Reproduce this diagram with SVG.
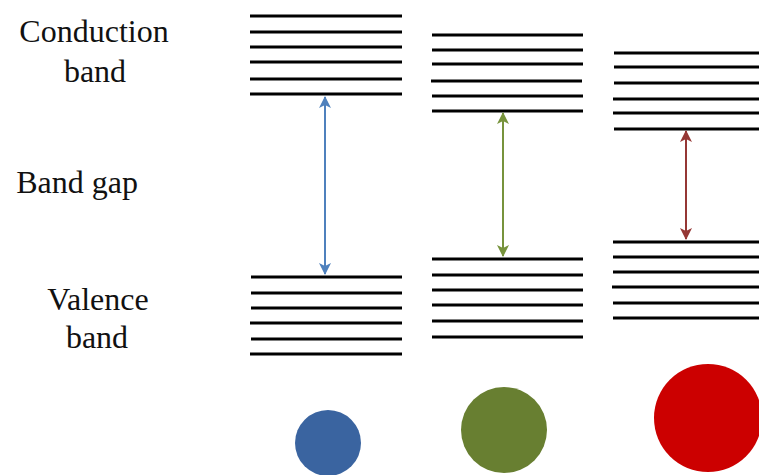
<svg xmlns="http://www.w3.org/2000/svg" width="759" height="475" viewBox="0 0 759 475">
  <style>
    .lbl { font-family: 'Liberation Serif', 'Times New Roman', Times, 'Noto Serif', 'DejaVu Serif', FreeSerif, Tinos, serif; font-size: 32px; fill: #111; text-anchor: middle; }
    .lvl line { stroke: #000; stroke-width: 3; }
    .gap { stroke-width: 2; fill: none; }
  </style>
  <defs>
    <marker id="hBlue" viewBox="0 0 12 12" refX="11" refY="6" markerWidth="13" markerHeight="12" orient="auto-start-reverse" markerUnits="userSpaceOnUse">
      <path d="M0,0 L12,6 L0,12 L3,6 Z" fill="#4f81bd"/>
    </marker>
    <marker id="hGreen" viewBox="0 0 12 12" refX="11" refY="6" markerWidth="13" markerHeight="12" orient="auto-start-reverse" markerUnits="userSpaceOnUse">
      <path d="M0,0 L12,6 L0,12 L3,6 Z" fill="#77933c"/>
    </marker>
    <marker id="hRed" viewBox="0 0 12 12" refX="11" refY="6" markerWidth="13" markerHeight="12" orient="auto-start-reverse" markerUnits="userSpaceOnUse">
      <path d="M0,0 L12,6 L0,12 L3,6 Z" fill="#953735"/>
    </marker>
  </defs>
  <rect width="759" height="475" fill="#fff"/>

  <!-- labels -->
  <g id="label-conduction">
    <text class="lbl" x="94" y="42">Conduction</text>
    <text class="lbl" x="95" y="82">band</text>
  </g>
  <g id="label-gap">
    <text class="lbl" x="77" y="193">Band gap</text>
  </g>
  <g id="label-valence">
    <text class="lbl" x="98" y="310">Valence</text>
    <text class="lbl" x="97" y="348">band</text>
  </g>

  <!-- material 1 -->
  <g id="cb1" class="lvl">
    <line x1="250" y1="16" x2="402" y2="16"/>
    <line x1="250" y1="32" x2="402" y2="32"/>
    <line x1="250" y1="47" x2="402" y2="47"/>
    <line x1="250" y1="62" x2="402" y2="62"/>
    <line x1="250" y1="79" x2="402" y2="79"/>
    <line x1="250" y1="94" x2="402" y2="94"/>
  </g>
  <g id="vb1" class="lvl">
    <line x1="251" y1="277" x2="402" y2="277"/>
    <line x1="251" y1="293" x2="402" y2="293"/>
    <line x1="251" y1="308" x2="402" y2="308"/>
    <line x1="250" y1="323" x2="402" y2="323"/>
    <line x1="251" y1="339" x2="402" y2="339"/>
    <line x1="250" y1="354" x2="402" y2="354"/>
  </g>

  <!-- material 2 -->
  <g id="cb2" class="lvl">
    <line x1="432" y1="35" x2="583" y2="35"/>
    <line x1="432" y1="50" x2="583" y2="50"/>
    <line x1="432" y1="64" x2="583" y2="64"/>
    <line x1="431" y1="81" x2="582" y2="81"/>
    <line x1="432" y1="96" x2="583" y2="96"/>
    <line x1="432" y1="111" x2="583" y2="111"/>
  </g>
  <g id="vb2" class="lvl">
    <line x1="432" y1="259" x2="583" y2="259"/>
    <line x1="432" y1="275" x2="583" y2="275"/>
    <line x1="432" y1="290" x2="583" y2="290"/>
    <line x1="432" y1="305" x2="583" y2="305"/>
    <line x1="432" y1="321" x2="583" y2="321"/>
    <line x1="432" y1="337" x2="583" y2="337"/>
  </g>

  <!-- material 3 -->
  <g id="cb3" class="lvl">
    <line x1="614" y1="53" x2="759" y2="53"/>
    <line x1="614" y1="67" x2="759" y2="67"/>
    <line x1="614" y1="83" x2="759" y2="83"/>
    <line x1="613" y1="99" x2="759" y2="99"/>
    <line x1="613" y1="113" x2="759" y2="113"/>
    <line x1="614" y1="129" x2="759" y2="129"/>
  </g>
  <g id="vb3" class="lvl">
    <line x1="613" y1="242" x2="759" y2="242"/>
    <line x1="613" y1="257" x2="759" y2="257"/>
    <line x1="613" y1="272" x2="759" y2="272"/>
    <line x1="612" y1="287" x2="759" y2="287"/>
    <line x1="613" y1="303" x2="759" y2="303"/>
    <line x1="613" y1="318" x2="759" y2="318"/>
  </g>

  <!-- band-gap arrows -->
  <g id="connectors">
    <line class="gap" x1="325" y1="97" x2="325" y2="274" stroke="#4f81bd" marker-start="url(#hBlue)" marker-end="url(#hBlue)"/>
    <line class="gap" x1="503" y1="113" x2="503" y2="256" stroke="#77933c" marker-start="url(#hGreen)" marker-end="url(#hGreen)"/>
    <line class="gap" x1="686" y1="131" x2="686" y2="239" stroke="#953735" marker-start="url(#hRed)" marker-end="url(#hRed)"/>
  </g>

  <!-- emission colour dots -->
  <g id="dot-blue"><circle cx="328" cy="443" r="33" fill="#3a64a0"/></g>
  <g id="dot-green"><circle cx="504" cy="430" r="43" fill="#687f31"/></g>
  <g id="dot-red"><circle cx="708" cy="418" r="54" fill="#cc0000"/></g>
</svg>
